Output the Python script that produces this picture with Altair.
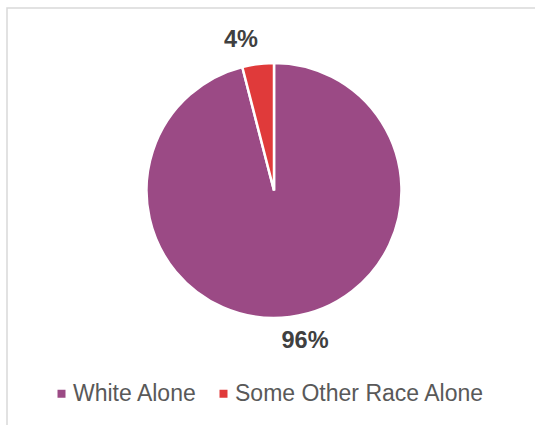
import altair as alt
import pandas as pd

# Share of population by race
races = ["White Alone", "Some Other Race Alone"]
shares = [96, 4]
labels = ["96%", "4%"]
colors = ["#9B4A85", "#E03A3A"]

df = pd.DataFrame({"race": races, "share": shares, "label": labels,
                   "idx": list(range(len(races)))})

CX, CY = 267, 182.5   # pie centre inside the framed view
R = 127.5

base = alt.Chart(df)

# light grey frame around the chart area
frame = alt.Chart(pd.DataFrame({"k": [0]})).mark_rect(
    fill="white", stroke="#D9D9D9", strokeWidth=1.5
).encode(
    x=alt.value(0), x2=alt.value(560), y=alt.value(0), y2=alt.value(450)
)

pie = base.mark_arc(radius=R, x=CX, y=CY, stroke="white", strokeWidth=2.5).encode(
    theta=alt.Theta("share:Q", stack=True, scale=alt.Scale(domain=[0, 100])),
    color=alt.Color(
        "race:N",
        scale=alt.Scale(domain=races, range=colors),
        sort=races,
        legend=alt.Legend(
            title=None,
            orient="none",
            direction="horizontal",
            legendX=43,
            legendY=374,
            symbolType="square",
            symbolSize=64,
            symbolStrokeWidth=0,
            labelFont="Liberation Sans",
            labelFontSize=23,
            labelColor="#595959",
            labelOffset=0,
            labelLimit=0,
            columnPadding=14,
        ),
    ),
    order=alt.Order("idx:Q"),
)


def pct_label(name, dx):
    return (
        base.transform_window(cum="sum(share)", sort=[alt.SortField("idx")])
        .transform_calculate(mid="datum.cum - datum.share / 2")
        .transform_filter(alt.datum.race == name)
        .mark_text(radius=152, x=CX, y=CY, dx=dx, font="Liberation Sans",
                   fontWeight="bold", fontSize=23.5, color="#404040",
                   align="center", baseline="middle")
        .encode(
            theta=alt.Theta("mid:Q", stack=False, scale=alt.Scale(domain=[0, 100])),
            text="label:N",
        )
    )


chart = (
    alt.layer(frame, pie, pct_label("White Alone", 12), pct_label("Some Other Race Alone", -14))
    .properties(
        width=528,
        height=417,
        padding={"left": 7, "top": 8, "right": 0, "bottom": 0},
        autosize=alt.AutoSizeParams(type="none"),
        background="white",
    )
    .configure_view(stroke=None)
)

chart.save("out.html", embed_options={"renderer": "svg", "actions": False})
